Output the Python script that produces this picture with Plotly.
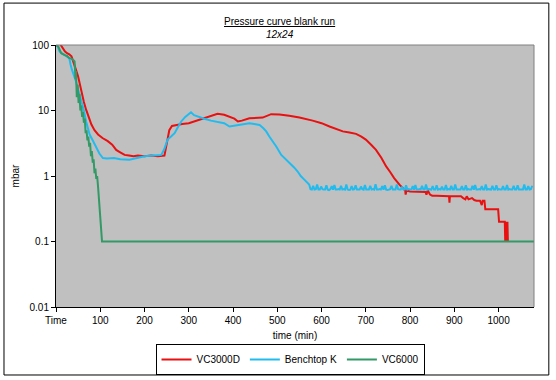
import plotly.graph_objects as go

# ---------------- data ----------------
red_t = [0, 5, 10, 15, 20, 25, 30, 35, 40, 45, 50, 57, 63, 68, 74, 80, 87, 95, 105, 117,
         127, 136, 145, 155, 165, 175, 185, 200, 215, 230, 245, 250, 256, 262, 271, 285,
         300, 313, 325, 335, 350, 365, 380, 392, 403, 411, 420, 437, 452, 467, 486, 505,
         527, 550, 580, 600, 618, 635, 648, 663, 678, 690, 700, 712, 723, 735, 746, 755,
         764, 776, 785, 789, 790, 792, 800, 810, 820, 835, 837, 840, 845, 850, 860, 870,
         880, 888, 889, 890, 900, 915, 920, 925, 928, 932, 940, 945, 950, 958, 962, 964,
         968, 970, 985, 999, 1001, 1014, 1015, 1016, 1017, 1018, 1019, 1020, 1021]
red_v = [130, 115, 100, 90, 80, 75, 72, 67, 55, 42, 33, 19, 13.5, 10.3, 7.8, 6.1, 5.0, 4.3, 3.8, 3.4,
         3.0, 2.5, 2.3, 2.1, 2.05, 2.0, 2.05, 2.0, 2.05, 2.0, 2.05, 3.0, 5.0, 5.8, 6.0, 6.2,
         6.4, 6.8, 7.2, 7.7, 8.3, 8.9, 8.6, 8.1, 7.5, 6.8, 7.0, 7.6, 7.7, 7.8, 8.8, 8.7,
         8.3, 7.8, 7.0, 6.4, 5.7, 5.2, 4.8, 4.6, 4.4, 4.0, 3.6, 3.0, 2.5, 1.9, 1.4, 1.15,
         0.93, 0.74, 0.65, 0.6, 0.52, 0.6, 0.58, 0.58, 0.57, 0.57, 0.52, 0.6, 0.52, 0.5, 0.5, 0.5,
         0.49, 0.49, 0.39, 0.49, 0.49, 0.49, 0.46, 0.44, 0.49, 0.44, 0.46, 0.43, 0.42, 0.42, 0.36, 0.42,
         0.42, 0.31, 0.31, 0.31, 0.2, 0.2, 0.1, 0.2, 0.1, 0.2, 0.1, 0.2, 0.1]

cyan_t = [0, 4, 8, 12, 20, 30, 33, 36, 45, 57, 63, 68, 76, 84, 91, 98, 106, 115, 131, 145,
          166, 180, 200, 220, 238, 245, 252, 260, 268, 275, 283, 292, 300, 305, 312, 320,
          335, 350, 365, 380, 392, 400, 414, 425, 437, 448, 460, 468, 475, 482, 490, 498,
          509, 520, 531, 538, 546, 553, 561, 568, 572]
cyan_v = [100, 95, 80, 75, 70, 63, 50, 42, 28, 14.6, 10, 6.8, 4.3, 3.4, 2.8, 2.2, 1.88, 1.85, 1.88, 1.8,
          1.77, 1.85, 2.0, 2.05, 2.1, 2.6, 3.6, 4.0, 4.5, 5.5, 6.8, 8.0, 9.0, 9.4, 8.5, 8.1,
          7.5, 7.0, 6.7, 6.4, 5.7, 5.8, 6.1, 6.2, 6.4, 6.2, 6.0, 5.4, 4.8, 4.0, 3.4, 2.8,
          2.1, 1.8, 1.5, 1.35, 1.17, 1.0, 0.88, 0.8, 0.74]
# plateau section, read every 3 minutes from 575 to 1076
cyan_plateau_t = list(range(575, 1078, 3))
cyan_plateau_v = [
    0.63, 0.62, 0.71, 0.62, 0.63, 0.74, 0.62, 0.62, 0.69, 0.63, 0.62, 0.62,
    0.72, 0.62, 0.61, 0.63, 0.70, 0.62, 0.73, 0.62, 0.62, 0.63, 0.62, 0.71,
    0.62, 0.63, 0.62, 0.74, 0.62, 0.61, 0.62, 0.70, 0.62, 0.63, 0.72, 0.62,
    0.62, 0.62, 0.69, 0.63, 0.62, 0.73, 0.62, 0.62, 0.62, 0.71, 0.62, 0.63,
    0.62, 0.75, 0.62, 0.62, 0.63, 0.62, 0.70, 0.62, 0.72, 0.62, 0.61, 0.62,
    0.63, 0.71, 0.62, 0.62, 0.62, 0.74, 0.63, 0.62, 0.62, 0.69, 0.62, 0.62,
    0.72, 0.62, 0.63, 0.62, 0.62, 0.70, 0.62, 0.73, 0.62, 0.62, 0.63, 0.62,
    0.71, 0.62, 0.62, 0.74, 0.62, 0.63, 0.62, 0.62, 0.70, 0.62, 0.62, 0.72,
    0.62, 0.63, 0.62, 0.69, 0.62, 0.62, 0.73, 0.62, 0.63, 0.62, 0.71, 0.62,
    0.62, 0.74, 0.62, 0.62, 0.63, 0.62, 0.70, 0.62, 0.62, 0.72, 0.62, 0.63,
    0.62, 0.62, 0.71, 0.62, 0.73, 0.62, 0.62, 0.63, 0.62, 0.70, 0.62, 0.62,
    0.74, 0.62, 0.63, 0.62, 0.62, 0.71, 0.62, 0.62, 0.72, 0.62, 0.63, 0.62,
    0.62, 0.70, 0.62, 0.62, 0.73, 0.62, 0.63, 0.62, 0.62, 0.71, 0.62, 0.62,
    0.72, 0.62, 0.62, 0.63, 0.62, 0.74, 0.62, 0.62, 0.70, 0.62, 0.63, 0.71]

green_t = [0, 5, 10, 12, 20, 25, 30, 35, 40, 42, 44, 45, 47, 49, 51, 53, 55, 57, 59, 61,
           63, 65, 67, 69, 71, 73, 75, 77, 79, 81, 83, 85, 87, 89, 91, 93, 95, 97, 99,
           101, 104, 1080]
green_v = [100, 95, 80, 75, 70, 68, 63, 62, 58, 56, 30, 40, 16, 25, 13, 18, 10, 12, 8, 9.5,
           6.5, 7.5, 4.5, 5.0, 3.5, 4.0, 2.8, 3.2, 2.0, 2.4, 1.6, 1.8, 1.1, 1.3, 0.9, 1.0, 0.69, 0.45, 0.24,
           0.2, 0.1, 0.1]

x_tickvals = [0, 100, 200, 300, 400, 500, 600, 700, 800, 900, 1000]
x_ticktext = ["Time", "100", "200", "300", "400", "500", "600", "700", "800", "900", "1000"]
y_tickvals = [0.01, 0.1, 1, 10, 100]
y_ticktext = ["0.01", "0.1", "1", "10", "100"]

RED = "#E81010"
CYAN = "#22BBEE"
GREEN = "#339966"
FONT = "Liberation Sans, Arial, sans-serif"

fig = go.Figure()
fig.add_trace(go.Scatter(x=red_t, y=red_v, mode="lines", name="VC3000D",
                         line=dict(color=RED, width=2)))
fig.add_trace(go.Scatter(x=cyan_t + cyan_plateau_t, y=cyan_v + cyan_plateau_v, mode="lines",
                         name="Benchtop K", line=dict(color=CYAN, width=2)))
fig.add_trace(go.Scatter(x=green_t, y=green_v, mode="lines", name="VC6000",
                         line=dict(color=GREEN, width=2)))

fig.update_layout(
    width=556, height=380,
    margin=dict(l=56, r=22, t=45, b=73, pad=0, autoexpand=False),
    paper_bgcolor="white",
    plot_bgcolor="#C0C0C0",
    font=dict(family=FONT, size=10, color="black"),
    showlegend=True,
    legend=dict(orientation="h", xref="container", yref="container",
                x=0.5216, xanchor="center", y=0.0947, yanchor="top",
                bordercolor="black", borderwidth=1, bgcolor="white",
                font=dict(size=10), itemwidth=30, tracegroupgap=0),
    xaxis=dict(range=[0, 1080], tickmode="array", tickvals=x_tickvals, ticktext=x_ticktext,
               ticks="outside", ticklen=4, tickcolor="black", showline=True,
               linecolor="black", linewidth=1, showgrid=False, zeroline=False,
               automargin=False,
               title=dict(text="time (min)", font=dict(size=10), standoff=6)),
    yaxis=dict(type="log", range=[-2, 2], tickmode="array", tickvals=y_tickvals,
               ticktext=y_ticktext, ticks="outside", ticklen=4, tickcolor="black",
               showline=True, linecolor="black", linewidth=1, showgrid=False,
               zeroline=False, automargin=False,
               title=dict(text="mbar", font=dict(size=10), standoff=8)),
    shapes=[
        dict(type="line", xref="paper", yref="paper", x0=0, x1=1, y0=1, y1=1,
             line=dict(color="#808080", width=1)),
        dict(type="line", xref="paper", yref="paper", x0=1, x1=1, y0=0, y1=1,
             line=dict(color="#808080", width=1)),
        dict(type="rect", xref="paper", yref="paper", x0=-0.1088, x1=1.031,
             y0=-0.2595, y1=1.160, line=dict(color="black", width=1)),
    ],
    annotations=[
        dict(text="<u>Pressure curve blank run</u>", xref="paper", yref="paper",
             x=0.4686, y=1.118, showarrow=False, font=dict(size=10)),
        dict(text="<i>12x24</i>", xref="paper", yref="paper",
             x=0.4686, y=1.069, showarrow=False, font=dict(size=10)),
    ],
)

fig.write_html("out.html", config={"displayModeBar": False},
               post_script="document.body.style.margin='0';document.body.style.overflow='hidden';")
